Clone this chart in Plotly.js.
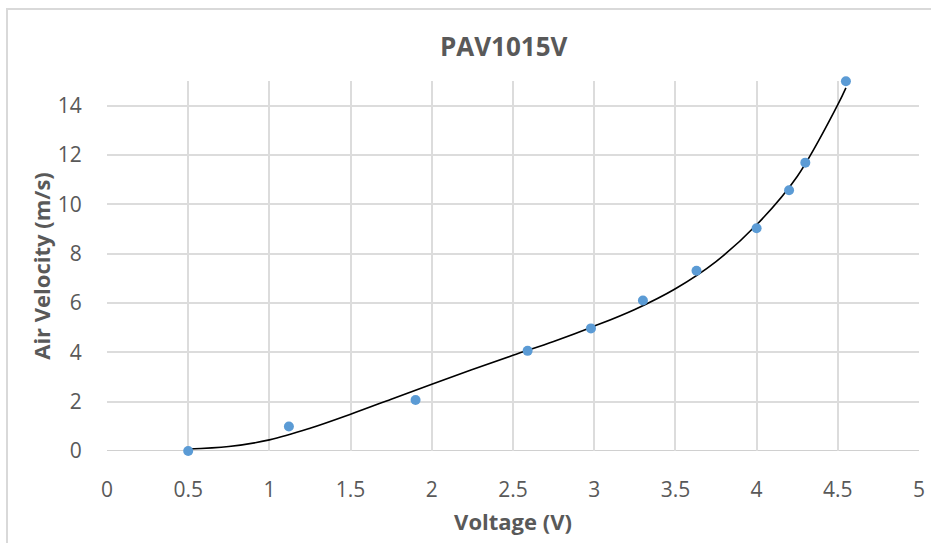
<!DOCTYPE html>
<html>
<head>
<meta charset="utf-8">
<script src="https://cdn.plot.ly/plotly-3.0.1.min.js"></script>
<style>
  html, body { margin: 0; padding: 0; background: #ffffff; }
  #frame { position: absolute; left: 6px; top: 8px; width: 940px; height: 560px; border: 2px solid #d9d9d9; box-sizing: border-box; }
  #chart { position: absolute; left: 0; top: 0; width: 931px; height: 543px; }
</style>
</head>
<body>
<div id="frame"></div>
<div id="chart"></div>
<script>
// Measured data points
const voltage = [0.5, 1.12, 1.9, 2.59, 2.98, 3.3, 3.63, 4.0, 4.2, 4.3, 4.55];
const airVelocity = [0.0, 0.99, 2.07, 4.06, 4.97, 6.10, 7.31, 9.03, 10.57, 11.69, 14.99];

// Trendline
const trendX = [0.5, 0.75, 1.0, 1.25, 1.5, 1.75, 2.0, 2.25, 2.5, 2.75, 3.0, 3.25, 3.5, 3.75, 4.0, 4.25, 4.5, 4.55];
const trendY = [0.08, 0.18, 0.45, 0.92, 1.49, 2.10, 2.71, 3.30, 3.88, 4.44, 5.06, 5.74, 6.58, 7.68, 9.17, 11.13, 14.04, 14.72];

const xTicks = [0, 0.5, 1, 1.5, 2, 2.5, 3, 3.5, 4, 4.5, 5];
const xTickLabels = ['0', '0.5', '1', '1.5', '2', '2.5', '3', '3.5', '4', '4.5', '5'];
const yTicks = [0, 2, 4, 6, 8, 10, 12, 14];

const FONT = '"Open Sans", "DejaVu Sans", sans-serif';
const GREY = '#595959';

const traces = [
  {
    x: trendX, y: trendY, type: 'scatter', mode: 'lines',
    line: { color: '#000000', width: 1.6, shape: 'spline', smoothing: 1 },
    hoverinfo: 'skip', showlegend: false, cliponaxis: false
  },
  {
    x: voltage, y: airVelocity, type: 'scatter', mode: 'markers',
    marker: { color: '#5B9BD5', size: 10 },
    showlegend: false, cliponaxis: false
  }
];

const layout = {
  width: 931, height: 543,
  margin: { l: 107, r: 12, t: 81, b: 92 },
  paper_bgcolor: 'rgba(0,0,0,0)',
  plot_bgcolor: '#ffffff',
  font: { family: FONT, color: GREY },
  title: {
    text: '<b>PAV1015V</b>',
    font: { family: FONT, size: 26, color: GREY },
    xref: 'container', x: 0.541, xanchor: 'center',
    yref: 'container', y: 0.913, yanchor: 'middle'
  },
  xaxis: {
    range: [0, 5],
    tickvals: xTicks, ticktext: xTickLabels,
    showgrid: true, gridcolor: '#dcdcdc', gridwidth: 2,
    zeroline: false, showline: false,
    ticks: 'outside', ticklen: 20, tickcolor: 'rgba(0,0,0,0)',
    tickfont: { family: FONT, size: 21, color: GREY },
    title: { text: '<b>Voltage (V)</b>', font: { family: FONT, size: 22, color: GREY }, standoff: 12 },
    fixedrange: true
  },
  yaxis: {
    range: [0, 15],
    tickvals: yTicks,
    showgrid: true, gridcolor: '#dcdcdc', gridwidth: 2,
    zeroline: false, showline: false,
    ticks: 'outside', ticklen: 20, tickcolor: 'rgba(0,0,0,0)',
    tickfont: { family: FONT, size: 21, color: GREY },
    title: { text: '<b>Air Velocity (m/s)</b>', font: { family: FONT, size: 22, color: GREY }, standoff: 1 },
    fixedrange: true
  },
  shapes: [
    { type: 'line', xref: 'x', yref: 'y', x0: 0, x1: 5, y0: 0, y1: 0, line: { color: '#d0d0d0', width: 2 }, layer: 'below' }
  ]
};

Plotly.newPlot('chart', traces, layout, { displayModeBar: false, staticPlot: true });
</script>
</body>
</html>
